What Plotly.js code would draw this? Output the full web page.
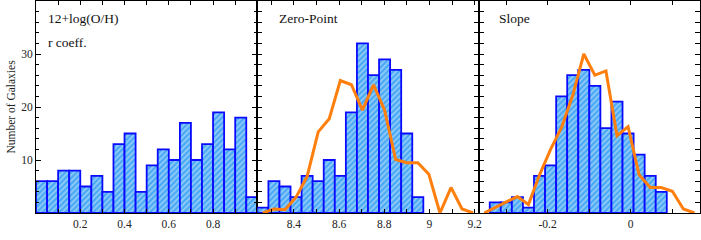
<!DOCTYPE html>
<html>
<head>
<meta charset="utf-8">
<script src="https://cdn.plot.ly/plotly-3.0.1.min.js"></script>
<style>html,body{margin:0;padding:0;background:#fff;}#chart{width:701px;height:240px;}</style>
</head>
<body>
<div id="chart"></div>
<script>
// ---- data ----
// Panel 1: 12+log(O/H) r coeff.
const rCenters = [0.025,0.075,0.125,0.175,0.225,0.275,0.325,0.375,0.425,0.475,0.525,0.575,0.625,0.675,0.725,0.775,0.825,0.875,0.925,0.975];
const rCounts  = [6,6,8,8,5,7,4,13,15,4,9,12,10,17,10,13,19,12,18,3];

// Panel 2: Zero-Point
const zpCenters = [8.2625,8.3115,8.3605,8.4095,8.4585,8.5075,8.5565,8.6055,8.6545,8.7035,8.7525,8.8015,8.8505,8.8995,8.9485,8.9975,9.0465,9.0955,9.1445,9.1935];
const zpCounts  = [1,6,5,3,7,6,10,7,19,32,26,29,27,15,3];
const zpCurve   = [0,0.75,0.6,3,6.9,15.3,17.8,25,24.2,19.4,24.2,19.4,10.1,9.5,9.5,7.3,0,4.8,0.75,0];

// Panel 3: Slope
const slCenters = [-0.3527,-0.3260,-0.2994,-0.2727,-0.2461,-0.2194,-0.1928,-0.1661,-0.1395,-0.1128,-0.0862,-0.0595,-0.0329,-0.0062,0.0204,0.0471,0.0737,0.1004,0.1270,0.1537];
const slCounts  = [2,2,3,1,7,9,22,26,27,24,16,21,15,11,7,4];   // bins 1..16
const slCurve   = [0,1.1,2.1,3.1,1.6,7.2,12,16.2,22.2,30,26,26.8,14.6,16.3,7.2,4.8,4.8,4.1,0.75,0];

const panelTitles = [["12+log(O/H)","r coeff."],["Zero-Point"],["Slope"]];
const xTicks1 = [0.2,0.4,0.6,0.8], xLabels1 = ["0.2","0.4","0.6","0.8"];
const xTicks2 = [8.4,8.6,8.8,9.0,9.2], xLabels2 = ["8.4","8.6","8.8","9","9.2"];
const xTicks3 = [-0.2,0], xLabels3 = ["-0.2","0"];
const yTicks = [10,20,30], yLabels = ["10","20","30"];
const yTitle = "Number of Galaxies";

// ---- styles ----
const FONT = 'Liberation Serif';
const barStyle = {
  color: '#4aa8f5',
  line: {color: '#0a0aff', width: 1.8},
  pattern: {shape: '/', fgcolor: '#d8eeff', bgcolor: '#44a6f4', size: 4, solidity: 0.5, fillmode: 'overlay'}
};
const lineStyle = {color: '#ff7f0e', width: 3};

function bar(x, y, w, xa) {
  return {type: 'bar', x: x, y: y, width: w, xaxis: xa, yaxis: 'y', marker: barStyle, hoverinfo: 'skip'};
}
const traces = [
  bar(rCenters, rCounts, 0.05, 'x'),
  bar(zpCenters.slice(0, zpCounts.length), zpCounts, 0.049, 'x2'),
  bar(slCenters.slice(1, 1 + slCounts.length), slCounts, 0.02665, 'x3'),
  {type: 'scatter', mode: 'lines', x: zpCenters, y: zpCurve, xaxis: 'x2', yaxis: 'y', line: lineStyle, hoverinfo: 'skip'},
  {type: 'scatter', mode: 'lines', x: slCenters, y: slCurve, xaxis: 'x3', yaxis: 'y', line: lineStyle, hoverinfo: 'skip'}
];

function xAxis(dom, range, tv, tt) {
  return {
    domain: dom, range: range, anchor: 'y',
    tickmode: 'array', tickvals: tv, ticktext: tt,
    ticks: 'inside', ticklen: 4, tickwidth: 1, tickcolor: '#000',
    minor: {dtick: 0.1, tick0: 0, ticks: 'inside', ticklen: 4, tickcolor: '#000', showgrid: false},
    showline: true, linecolor: '#000', linewidth: 1, mirror: 'allticks',
    showgrid: false, zeroline: false,
    tickfont: {family: FONT, size: 11.5, color: '#222'}
  };
}
const layout = {
  width: 701, height: 240,
  margin: {l: 36, r: 1, t: 1, b: 27, pad: 0},
  paper_bgcolor: '#fff', plot_bgcolor: '#fff',
  showlegend: false, bargap: 0, barmode: 'overlay',
  font: {family: FONT, size: 11, color: '#222'},
  xaxis:  xAxis([0, 1/3], [0, 1], xTicks1, xLabels1),
  xaxis2: xAxis([1/3, 2/3], [8.238, 9.218], xTicks2, xLabels2),
  xaxis3: xAxis([2/3, 1], [-0.366, 0.167], xTicks3, xLabels3),
  yaxis: {
    range: [0, 40], anchor: 'x',
    tickmode: 'array', tickvals: yTicks, ticktext: yLabels,
    ticks: 'inside', ticklen: 5, tickwidth: 1, tickcolor: '#000',
    minor: {dtick: 2, tick0: 0, ticks: 'inside', ticklen: 3, tickcolor: '#000', showgrid: false},
    showline: true, linecolor: '#000', linewidth: 1, mirror: 'allticks',
    showgrid: false, zeroline: false,
    tickfont: {family: FONT, size: 11.5, color: '#222'},
    title: {text: yTitle, font: {family: FONT, size: 11.5, color: '#222'}, standoff: 3}
  },
  annotations: []
};
// extra y axes for panels 2 and 3 (frames + ticks only)
['yaxis2','yaxis3'].forEach((k, i) => {
  layout[k] = {
    range: [0, 40], anchor: i === 0 ? 'x2' : 'x3', overlaying: 'y',
    tickmode: 'array', tickvals: yTicks, showticklabels: false,
    ticks: 'inside', ticklen: 5, tickwidth: 1, tickcolor: '#000',
    minor: {dtick: 2, tick0: 0, ticks: 'inside', ticklen: 3, tickcolor: '#000', showgrid: false},
    showline: true, linecolor: '#000', linewidth: 1, mirror: 'allticks',
    showgrid: false, zeroline: false
  };
});
// empty traces so that yaxis2/yaxis3 are drawn
traces.push({type: 'scatter', x: [], y: [], xaxis: 'x2', yaxis: 'y2', hoverinfo: 'skip'});
traces.push({type: 'scatter', x: [], y: [], xaxis: 'x3', yaxis: 'y3', hoverinfo: 'skip'});

const axRefs = ['x', 'x2', 'x3'];
const annX = [0.045, 0.088, 0.081];
const annY = [0.918, 0.805];
panelTitles.forEach((lines, p) => {
  lines.forEach((t, j) => {
    layout.annotations.push({
      text: t, xref: axRefs[p] + ' domain', yref: 'y domain',
      x: annX[p], y: annY[j], xanchor: 'left', yanchor: 'middle', showarrow: false,
      font: {family: FONT, size: 13.5, color: '#111'}
    });
  });
});

Plotly.newPlot('chart', traces, layout, {staticPlot: true, displayModeBar: false});
</script>
</body>
</html>
